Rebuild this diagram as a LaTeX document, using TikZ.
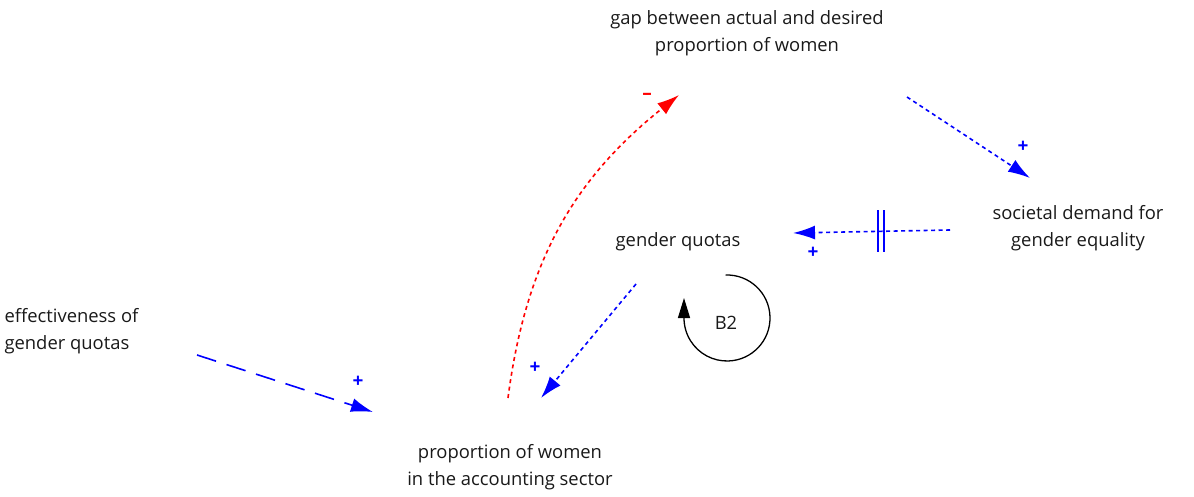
\documentclass[tikz,border=0pt]{standalone}
\usepackage{fontspec}
\setmainfont{Open Sans}
\usetikzlibrary{arrows.meta}

\begin{document}
\begin{tikzpicture}[x=1pt, y=-1pt,
	every node/.style={font=\fontsize{18.4}{26.5}\selectfont, text=black!90},
	link/.style={blue, line width=1.6pt, dash pattern=on 4pt off 3.5pt, -{Latex[length=22pt,width=14pt]}},
	neglink/.style={link, red},
	longlink/.style={link, dash pattern=on 20pt off 11pt},
	sgn/.style={font=\fontsize{19}{19}\selectfont\bfseries, text=blue, inner sep=0pt}]
	\useasboundingbox (0,0) rectangle (1194,497);
	% variables
	\node[align=center] (gap) at (747,33) {gap between actual and desired\\proportion of women};
	\node[align=center] (soc) at (1078,228) {societal demand for\\gender equality};
	\node (quo) at (678,242) {gender quotas};
	\node[align=left, anchor=west] (eff) at (1,331) {effectiveness of\\gender quotas};
	\node[align=center] (prop) at (510,467) {proportion of women\\in the accounting sector};
	\node (b2) at (726,323) {B2};
	% links
	\draw[link] ([shift={(160,64)}]gap.center) -- ([shift={(-48,-50)}]soc.center);
	\draw[link] ([shift={(-128,2)}]soc.center) -- coordinate[pos=0.44] (dly) ([shift={(115,-9)}]quo.center);
	\draw[link] ([shift={(-42,42)}]quo.center) -- ([shift={(31,-69)}]prop.center);
	\draw[longlink] ([shift={(196,24)}]eff.west) -- ([shift={(-137,-55)}]prop.center);
	\draw[neglink] ([shift={(-2,-69)}]prop.center) to[bend left=22] ([shift={(-68,62)}]gap.center);
	% delay mark
	\draw[blue, line width=1.4pt] ([shift={(-3,-21)}]dly) -- ++(0,42) ([shift={(3,-21)}]dly) -- ++(0,42);
	% polarities
	\node[sgn] (s1) at (1023,147) {+};
	\node[sgn] (s2) at (813,253) {+};
	\node[sgn] (s3) at (535,368) {+};
	\node[sgn] (s4) at (358,382) {+};
	\node[sgn, text=red] (s5) at (647,96) {--};
	% loop
	\draw[black, line width=1.3pt, -{Triangle[length=20pt,width=12pt]}] ([shift={(-92:43)}]727,318) arc[start angle=-92, end angle=180, radius=43] -- ++(0,-20);
\end{tikzpicture}
\end{document}
